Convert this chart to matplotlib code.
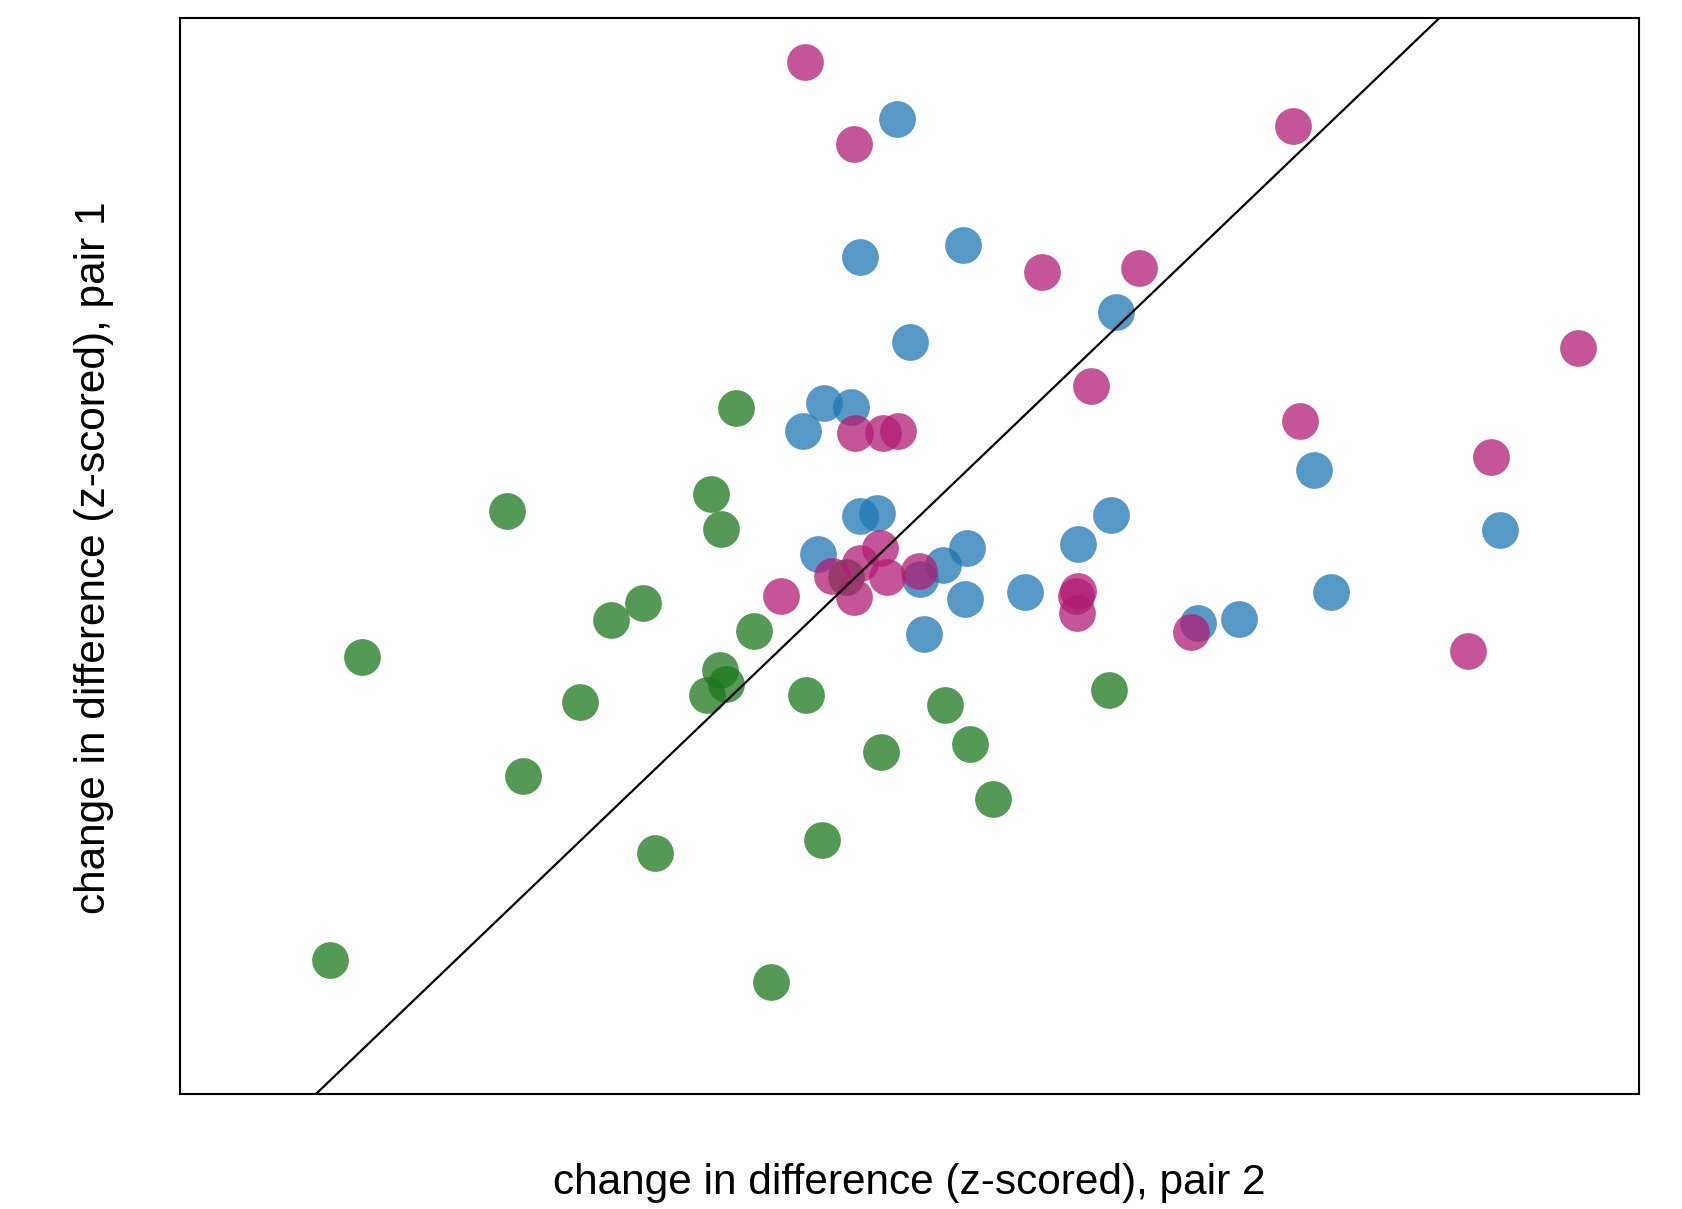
import numpy as np
import matplotlib
matplotlib.use('Agg')
import matplotlib.pyplot as plt

# green group
green_x = [-0.526, -1.549, -0.635, -0.591, -0.938, -1.084, -0.443, -2.196,
           -0.595, -0.568, -0.656, -1.221, -0.210, 0.123, -1.476, -0.888,
           -0.142, -2.335, -0.366, 0.409, 0.521, 0.624, 1.141, -0.034]
green_y = [0.796, 0.319, 0.399, 0.234, -0.110, -0.192, -0.243, -0.365,
           -0.423, -0.488, -0.538, -0.571, -0.540, -0.805, -0.918, -1.276,
           -1.217, -1.773, -1.880, -0.586, -0.766, -1.023, -0.518, 0.012]

# blue group
blue_x = [0.193, 0.031, 0.489, 1.170, 0.254, -0.130, -0.013, -0.224,
          0.029, 0.106, -0.157, 0.297, 0.401, 0.509, 0.496, 0.316,
          0.766, 1.001, 1.149, 1.539, 1.720, 2.133, 2.057, 2.887]
blue_y = [2.143, 1.502, 1.560, 1.244, 1.104, 0.820, 0.805, 0.690,
          0.295, 0.310, 0.116, 0.000, 0.067, 0.147, -0.092, -0.255,
          -0.059, 0.165, 0.300, -0.204, -0.184, -0.060, 0.509, 0.229]

# magenta group
pink_x = [-0.216, 0.003, 1.962, 0.844, 1.273, 3.237, 1.062, 1.994,
          2.847, 0.005, 0.130, 0.199, 0.118, 0.031, -0.098, 0.002,
          0.151, 0.293, -0.325, 1.004, 0.993, 0.996, 1.509, 2.746]
pink_y = [2.411, 2.030, 2.111, 1.430, 1.452, 1.080, 0.899, 0.738,
          0.569, 0.680, 0.683, 0.691, 0.144, 0.074, 0.017, -0.081,
          0.009, 0.036, -0.078, -0.053, -0.078, -0.159, -0.247, -0.333]

xlabel = 'change in difference (z-scored), pair 2'
ylabel = 'change in difference (z-scored), pair 1'

plt.rcParams['font.family'] = ['Liberation Sans', 'DejaVu Sans']

fig = plt.figure(figsize=(16.82, 12.09), dpi=100)
ax = fig.add_axes([0.1070, 0.0951, 0.8674, 0.8900])

ax.scatter(green_x, green_y, s=700, color='#1b781b', alpha=0.75, linewidths=0, zorder=2)
ax.scatter(blue_x, blue_y, s=700, color='#1f77b4', alpha=0.75, linewidths=0, zorder=2)
ax.scatter(pink_x, pink_y, s=700, color='#b01c73', alpha=0.75, linewidths=0, zorder=2)

ax.axline((0, 0), slope=1, color='black', lw=1.6, zorder=3)

ax.set_xlim(-3.007, 3.507)
ax.set_ylim(-2.40, 2.616)
ax.set_xticks([])
ax.set_yticks([])
for sp in ax.spines.values():
    sp.set_linewidth(1.5)

fig.text(0.5407, 0.0215, xlabel, ha='center', va='center', fontsize=30.5)
fig.text(0.0559, 0.5385, ylabel, ha='center', va='center', fontsize=30.5, rotation=90)

fig.savefig('out.png', dpi=100)
